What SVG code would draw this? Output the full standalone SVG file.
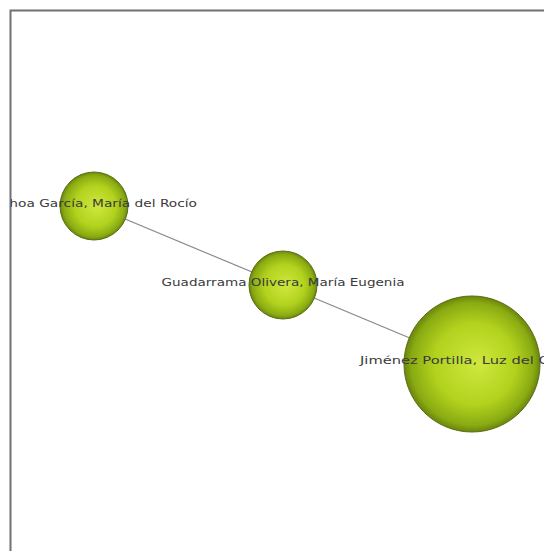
<svg xmlns="http://www.w3.org/2000/svg" width="544" height="551" viewBox="0 0 544 551">
<style>
.lbl{font-family:"DejaVu Sans",Verdana,sans-serif;font-size:11px;fill:#3a3a3a;text-anchor:middle}
.node{fill:url(#ball);stroke:#5a6e10;stroke-width:1}
.edge{stroke:#8a8a8a;stroke-width:1.2;fill:none}
</style>
<defs>
<radialGradient id="ball" cx="0.5" cy="0.5" r="0.5" fx="0.55" fy="0.5">
<stop offset="0" stop-color="#cfe83e"/>
<stop offset="0.6" stop-color="#b2d21e"/>
<stop offset="0.9" stop-color="#8aab12"/>
<stop offset="1" stop-color="#6b850e"/>
</radialGradient>
<clipPath id="frame"><rect x="11" y="11" width="540" height="545"/></clipPath>
</defs>
<rect x="0" y="0" width="544" height="551" fill="#ffffff"/>
<path d="M10.5 551 V10.5 H544" fill="none" stroke="#707070" stroke-width="2"/>
<g clip-path="url(#frame)">
<g id="connectors">
<line class="edge" x1="94" y1="206" x2="472" y2="364"/>
</g>
<g id="node-ochoa">
<circle class="node" cx="94" cy="206" r="34"/>
<text class="lbl" x="94" y="207" textLength="206" lengthAdjust="spacingAndGlyphs">Ochoa García, María del Rocío</text>
</g>
<g id="node-guadarrama">
<circle class="node" cx="283" cy="285" r="34"/>
<text class="lbl" x="283" y="286" textLength="243" lengthAdjust="spacingAndGlyphs">Guadarrama Olivera, María Eugenia</text>
</g>
<g id="node-jimenez">
<circle class="node" cx="472" cy="364" r="68"/>
<text class="lbl" x="478" y="364" textLength="236" lengthAdjust="spacingAndGlyphs">Jiménez Portilla, Luz del Carmen</text>
</g>
</g>
</svg>
